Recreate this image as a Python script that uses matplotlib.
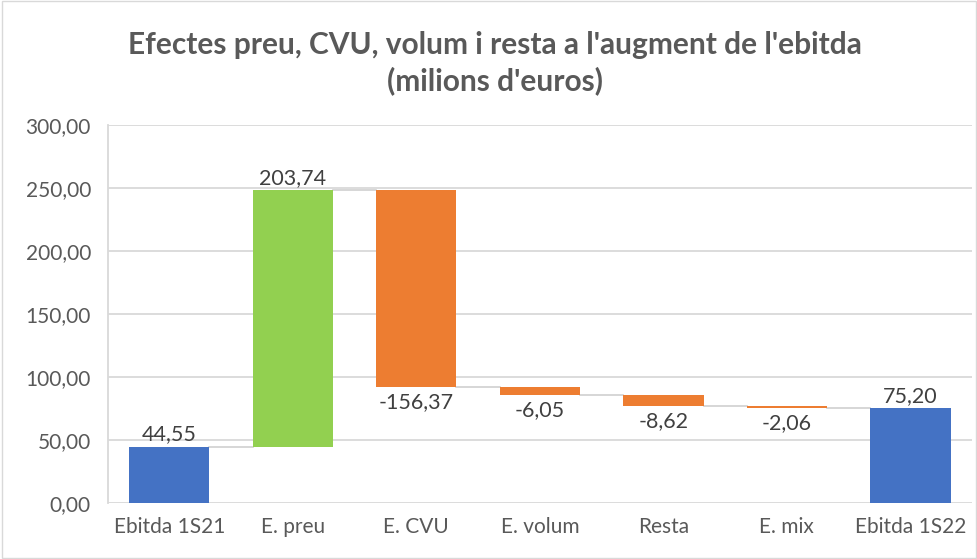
import matplotlib.pyplot as plt
import numpy as np

categories = ['Ebitda 1S21', 'E. preu', 'E. CVU', 'E. volum', 'Resta', 'E. mix', 'Ebitda 1S22']
values = [44.55, 203.74, -156.37, -6.05, -8.62, -2.06, 75.20]
is_total = [True, False, False, False, False, False, True]
labels = ['44,55', '203,74', '-156,37', '-6,05', '-8,62', '-2,06', '75,20']
yticks = [0, 50, 100, 150, 200, 250, 300]

blue = '#4472C4'
green = '#92D050'
orange = '#ED7D31'
grey_txt = '#595959'

plt.rcParams['font.family'] = ['Lato', 'DejaVu Sans']

fig = plt.figure(figsize=(9.78, 5.59), dpi=100)
ax = fig.add_axes([0.110, 0.100, 0.884, 0.676])

x = np.arange(len(categories))
width = 0.65
bottoms, heights, colors = [], [], []
level = 0.0
for v, tot in zip(values, is_total):
    if tot:
        bottoms.append(0)
        heights.append(v)
        colors.append(blue)
        level = v
    else:
        bottoms.append(level if v >= 0 else level + v)
        heights.append(abs(v))
        colors.append(green if v >= 0 else orange)
        level += v

ax.bar(x, heights, bottom=bottoms, width=width, color=colors, zorder=3)

# connector lines
level = 0.0
ends = []
for v, tot in zip(values, is_total):
    level = v if tot else level + v
    ends.append(level)
for i in range(len(x) - 1):
    ax.plot([x[i] + width / 2, x[i + 1] - width / 2], [ends[i], ends[i]],
            color='#d0d0d0', lw=1.2, zorder=2)

# data labels
for i, (v, tot) in enumerate(zip(values, is_total)):
    top = bottoms[i] + heights[i]
    if v >= 0:
        ax.text(x[i], top + 2, labels[i], ha='center', va='bottom', fontsize=15.5, color='#404040')
    else:
        ax.text(x[i], bottoms[i] - 4, labels[i], ha='center', va='top', fontsize=15.5, color='#404040')

ax.set_xlim(-0.5, len(x) - 0.5)
ax.set_ylim(0, 300)
ax.set_yticks(yticks)
ax.set_yticklabels([f'{t:.2f}'.replace('.', ',') for t in yticks], fontsize=15, color=grey_txt)
ax.set_xticks(x)
ax.set_xticklabels(categories, fontsize=15, color=grey_txt)
ax.tick_params(axis='y', length=0, pad=12)
ax.tick_params(axis='x', length=0, pad=10)
ax.grid(axis='y', color='#d9d9d9', lw=1.3, zorder=0)
for s in ['top', 'right', 'bottom']:
    ax.spines[s].set_visible(False)
ax.spines['left'].set_color('#d9d9d9')
ax.spines['left'].set_linewidth(1.3)

fig.text(0.506, 0.888, "Efectes preu, CVU, volum i resta a l'augment de l'ebitda\n(milions d'euros)",
         ha='center', va='center', fontsize=21.5, fontweight='bold', color=grey_txt, linespacing=1.3)

fig.patches.append(plt.Rectangle((0.002, 0.002), 0.996, 0.996, transform=fig.transFigure,
                                 fill=False, edgecolor='#d9d9d9', lw=1))

fig.savefig('out.png', dpi=100)
